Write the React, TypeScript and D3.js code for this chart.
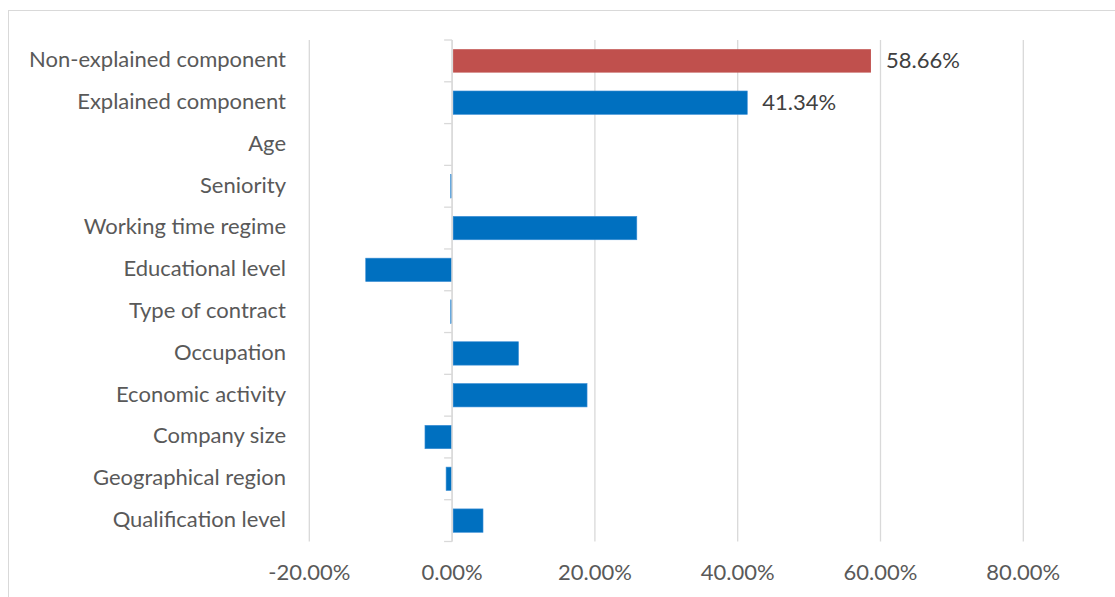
import React from "react";
import * as d3 from "d3";

const categories = [
  "Non-explained component",
  "Explained component",
  "Age",
  "Seniority",
  "Working time regime",
  "Educational level",
  "Type of contract",
  "Occupation",
  "Economic activity",
  "Company size",
  "Geographical region",
  "Qualification level",
];
const values = [58.66, 41.34, 0, -0.2, 25.87, -12.1, -0.2, 9.3, 18.9, -3.8, -0.84, 4.33];
const labelled = [true, true, false, false, false, false, false, false, false, false, false, false];
const barColors = ["#c0504d", "#0070c0", "#0070c0", "#0070c0", "#0070c0", "#0070c0", "#0070c0", "#0070c0", "#0070c0", "#0070c0", "#0070c0", "#0070c0"];
const xTicks = [-20, 0, 20, 40, 60, 80];

const W = 1115;
const H = 597;
const FONT = "Lato, 'Open Sans', sans-serif";
const TEXT = "#595959";
const GRID = "#d9d9d9";

export default function App() {
  const x = d3.scaleLinear().domain([-20, 80]).range([309.3, 1023.3]);
  const y = d3.scaleBand<string>().domain(categories).range([40, 541.5]).paddingInner(0.44).paddingOuter(0.22);
  const step = y.step();
  const y0 = 40;
  const y1 = 541.5;
  const fmt = (v: number) => v.toFixed(2) + "%";

  return (
    <svg width={W} height={H} style={{ position: "absolute", left: 0, top: 0, background: "#fff" }} fontFamily={FONT}>
      <rect x={8.5} y={10.5} width={W + 10} height={H + 10} fill="#fff" stroke={GRID} strokeWidth={1} />
      {xTicks.map((t) => (
        <g key={t}>
          <line x1={x(t)} x2={x(t)} y1={y0} y2={y1} stroke={GRID} strokeWidth={1.3} />
          <text x={x(t)} y={580} textAnchor="middle" fontSize={22} fill={TEXT}>
            {t.toFixed(2) + "%"}
          </text>
        </g>
      ))}
      {categories.map((c, i) => {
        const v = values[i];
        const bx = v >= 0 ? x(0) + 1 : x(v);
        const raw = Math.abs(x(v) - x(0)) - (v >= 0 ? 1 : 0.8);
        const bw = v === 0 ? 0 : Math.max(0.8, raw);
        const cy = (y(c) as number) + y.bandwidth() / 2;
        return (
          <g key={c}>
            {bw > 0 && (
              <rect
                x={bx}
                y={y(c)}
                width={bw}
                height={y.bandwidth()}
                fill={barColors[i]}
                stroke={i === 0 ? "none" : "#3d8fd6"}
                strokeWidth={i === 0 ? 0 : 0.6}
              />
            )}
            <text x={286} y={cy} dy="0.29em" textAnchor="end" fontSize={22} fill={TEXT}>
              {c}
            </text>
            {labelled[i] && (
              <text x={x(v) + 15} y={cy} dy="0.33em" fontSize={22} fill="#404040">
                {fmt(v)}
              </text>
            )}
          </g>
        );
      })}
      <line x1={x(0)} x2={x(0)} y1={y0} y2={y1} stroke={GRID} strokeWidth={1.3} />
      {d3.range(categories.length + 1).map((k) => (
        <line key={k} x1={x(0) - 8} x2={x(0)} y1={y0 + k * step} y2={y0 + k * step} stroke={GRID} strokeWidth={1.3} />
      ))}
    </svg>
  );
}
